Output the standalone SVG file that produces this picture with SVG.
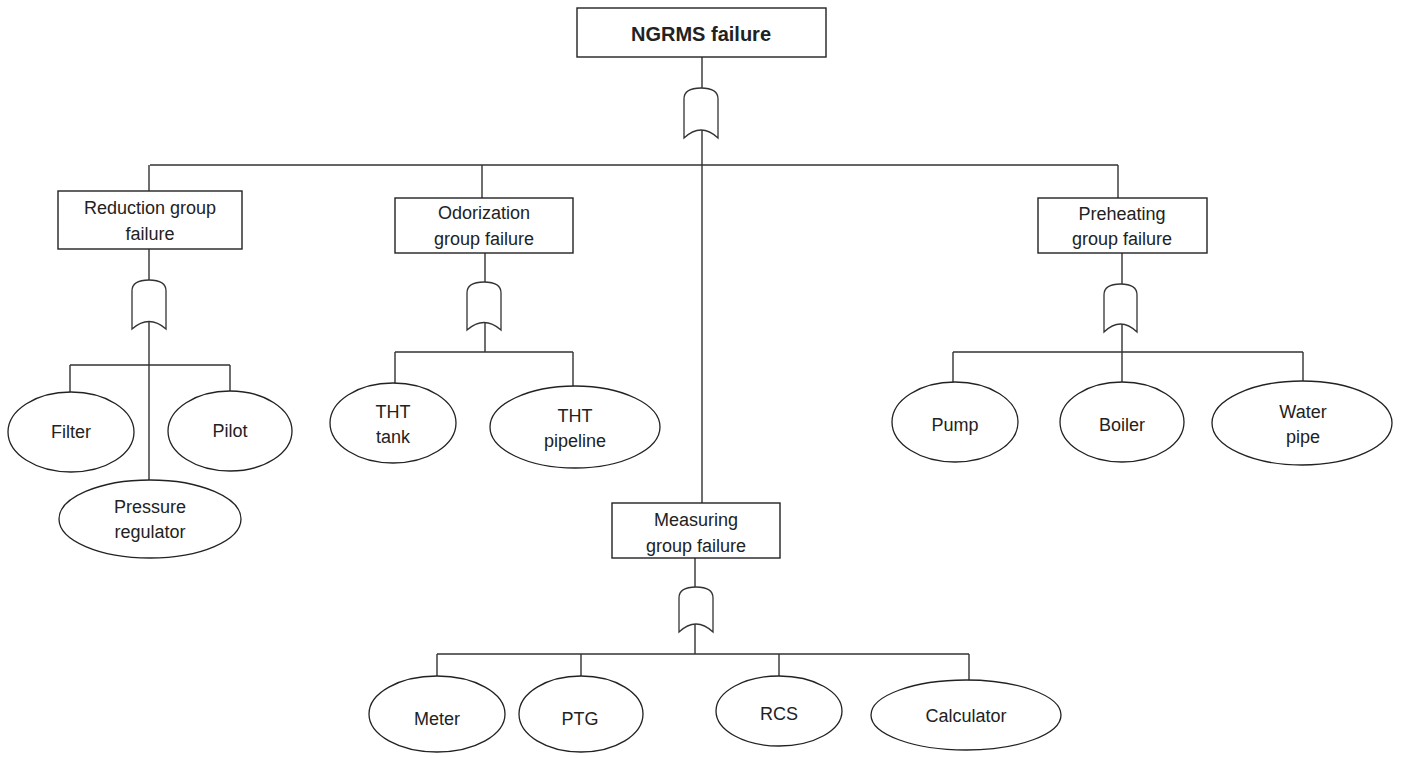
<svg xmlns="http://www.w3.org/2000/svg" width="1402" height="758" viewBox="0 0 1402 758">
<style>
  .box { fill: #fff; stroke: #222; stroke-width: 1.4; }
  .ev { fill: #fff; stroke: #222; stroke-width: 1.3; }
  .gate { fill: #fff; stroke: #333; stroke-width: 1.3; }
  .ln { fill: none; stroke: #333; stroke-width: 1.4; }
  text { font-family: "Liberation Sans", Arial, sans-serif; font-size: 18px; fill: #222; text-anchor: middle; }
  .title { font-weight: bold; font-size: 20px; }
</style>
<rect width="1402" height="758" fill="#fff"/>
<g id="connectors">
  <path class="ln" d="M702,57 V88 M702,130 V503"/>
  <path class="ln" d="M150,165 H1118 M149,165 V191 M482,165 V198 M1118,165 V198"/>
  <path class="ln" d="M149,249 V280 M149,322 V480 M70,365 H230 M70,365 V392 M230,365 V391"/>
  <path class="ln" d="M485,253 V282 M485,323 V352 M395,352 H573 M395,352 V383 M573,352 V387"/>
  <path class="ln" d="M1122,253 V284 M1122,324 V382 M953,352 H1303 M953,352 V382 M1303,352 V382"/>
  <path class="ln" d="M695,558 V587 M695,624 V654 M437,654 H969 M437,654 V676 M581,654 V676 M779,654 V676 M969,654 V680"/>
</g>
<g id="gates">
  <path id="gate-top" class="gate" d="M684,138 V99 Q684,88 701,88 Q718,88 718,99 V138 Q701,122 684,138 Z"/>
  <path id="gate-reduction" class="gate" d="M132,329 V291 Q132,280 149,280 Q166,280 166,291 V329 Q149,314 132,329 Z"/>
  <path id="gate-odorization" class="gate" d="M467,330 V293 Q467,282 484,282 Q501,282 501,293 V330 Q484,315 467,330 Z"/>
  <path id="gate-preheating" class="gate" d="M1104,332 V295 Q1104,284 1120.5,284 Q1137,284 1137,295 V332 Q1120.5,316 1104,332 Z"/>
  <path id="gate-measuring" class="gate" d="M679,632 V598 Q679,587 696,587 Q713,587 713,598 V632 Q696,616 679,632 Z"/>
</g>
<g id="ngrms">
  <rect class="box" x="577" y="8" width="249" height="49"/>
  <text class="title" x="701" y="41">NGRMS failure</text>
</g>
<g id="reduction">
  <rect class="box" x="58" y="191" width="184" height="58"/>
  <text x="150" y="214">Reduction group</text>
  <text x="150" y="240">failure</text>
</g>
<g id="odorization">
  <rect class="box" x="395" y="198" width="178" height="55"/>
  <text x="484" y="219">Odorization</text>
  <text x="484" y="245">group failure</text>
</g>
<g id="preheating">
  <rect class="box" x="1038" y="198" width="169" height="55"/>
  <text x="1122" y="220">Preheating</text>
  <text x="1122" y="245">group failure</text>
</g>
<g id="measuring">
  <rect class="box" x="612" y="503" width="168" height="55"/>
  <text x="696" y="526">Measuring</text>
  <text x="696" y="552">group failure</text>
</g>
<g id="filter">
  <ellipse class="ev" cx="71" cy="432" rx="63" ry="40"/>
  <text x="71" y="438">Filter</text>
</g>
<g id="pilot">
  <ellipse class="ev" cx="230" cy="431" rx="62" ry="40"/>
  <text x="230" y="437">Pilot</text>
</g>
<g id="pressure-regulator">
  <ellipse class="ev" cx="150" cy="519" rx="91" ry="39"/>
  <text x="150" y="513">Pressure</text>
  <text x="150" y="538">regulator</text>
</g>
<g id="tht-tank">
  <ellipse class="ev" cx="393" cy="423" rx="63" ry="40"/>
  <text x="393" y="418">THT</text>
  <text x="393" y="443">tank</text>
</g>
<g id="tht-pipeline">
  <ellipse class="ev" cx="575" cy="427" rx="85" ry="41"/>
  <text x="575" y="422">THT</text>
  <text x="575" y="447">pipeline</text>
</g>
<g id="pump">
  <ellipse class="ev" cx="955" cy="422" rx="63" ry="40"/>
  <text x="955" y="431">Pump</text>
</g>
<g id="boiler">
  <ellipse class="ev" cx="1122" cy="422" rx="62" ry="40"/>
  <text x="1122" y="431">Boiler</text>
</g>
<g id="water-pipe">
  <ellipse class="ev" cx="1302" cy="423" rx="90" ry="42"/>
  <text x="1303" y="418">Water</text>
  <text x="1303" y="443">pipe</text>
</g>
<g id="meter">
  <ellipse class="ev" cx="437" cy="714" rx="68" ry="38"/>
  <text x="437" y="725">Meter</text>
</g>
<g id="ptg">
  <ellipse class="ev" cx="581" cy="714" rx="62" ry="38"/>
  <text x="580" y="725">PTG</text>
</g>
<g id="rcs">
  <ellipse class="ev" cx="779" cy="711" rx="63" ry="35"/>
  <text x="779" y="720">RCS</text>
</g>
<g id="calculator">
  <ellipse class="ev" cx="966" cy="715" rx="95" ry="35"/>
  <text x="966" y="722">Calculator</text>
</g>
</svg>
